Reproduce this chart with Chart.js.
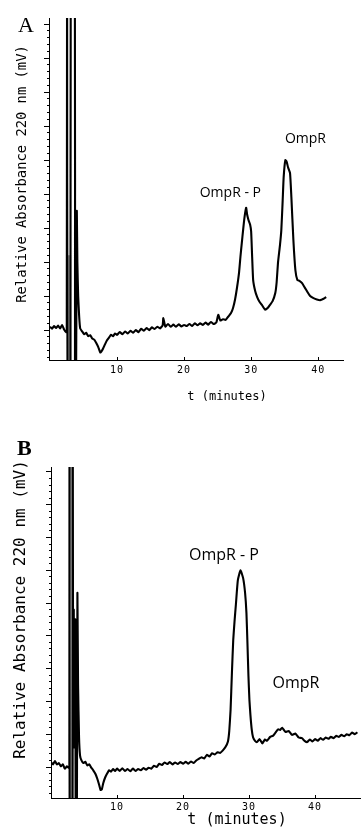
<!DOCTYPE html>
<html><head><meta charset="utf-8">
<script src="https://cdn.jsdelivr.net/npm/chart.js@4/dist/chart.umd.min.js"></script>
<style>
html,body{margin:0;padding:0;background:#fff;width:361px;height:831px;overflow:hidden}
canvas{position:absolute;left:0}
#chartA{top:0}
#chartB{top:415px}
</style></head><body>
<canvas id="chartA" width="361" height="415"></canvas>
<canvas id="chartB" width="361" height="416"></canvas>
<script>
// ---------- DATA ----------
const xTickValues = [10, 20, 30, 40];

// Panel A: OmpR-P + OmpR
const timeA = [0.0,0.3,0.6,0.9,1.2,1.5,1.8,2.1,2.4,2.5,2.55,2.62,3.05,3.1,3.7,3.72,3.85,4.0,4.08,4.2,4.35,4.5,4.8,5.1,5.4,5.7,6.0,6.3,6.6,6.9,7.2,7.5,7.7,7.9,8.2,8.5,8.8,9.1,9.4,9.7,10.0,10.4,10.8,11.2,11.6,12.0,12.4,12.8,13.2,13.6,14.0,14.4,14.8,15.2,15.6,16.0,16.4,16.8,16.9,17.2,17.6,18.0,18.4,18.8,19.2,19.6,20.0,20.4,20.8,21.2,21.6,22.0,22.4,22.8,23.2,23.6,24.0,24.4,24.8,25.1,25.4,25.8,26.2,26.6,27.0,27.3,27.6,27.9,28.2,28.4,28.6,28.8,29.0,29.25,29.4,29.6,29.85,30.0,30.15,30.3,30.6,30.9,31.2,31.6,32.1,32.5,32.8,33.2,33.6,33.8,34.0,34.3,34.5,34.7,34.85,35.1,35.3,35.5,35.8,36.0,36.3,36.6,36.9,37.2,37.6,38.0,38.4,38.8,39.3,39.8,40.3,40.8,41.2];
const signalA = [0.10,0.04,0.12,0.06,0.13,0.05,0.15,0.02,-0.06,0.0,12,-3,-3,12,12,-3,-3,3.5,2.0,1.0,0.4,0.05,-0.04,-0.12,-0.08,-0.18,-0.15,-0.25,-0.28,-0.38,-0.5,-0.66,-0.62,-0.55,-0.42,-0.3,-0.22,-0.14,-0.18,-0.1,-0.14,-0.06,-0.12,-0.04,-0.1,-0.02,-0.08,0.0,-0.06,0.04,-0.02,0.06,0.0,0.08,0.03,0.1,0.05,0.14,0.35,0.1,0.18,0.1,0.16,0.1,0.17,0.11,0.15,0.12,0.18,0.12,0.2,0.14,0.2,0.15,0.22,0.16,0.24,0.18,0.22,0.45,0.28,0.32,0.3,0.4,0.5,0.65,0.9,1.26,1.7,2.15,2.55,2.94,3.3,3.6,3.4,3.24,3.1,2.9,2.15,1.47,1.15,0.97,0.85,0.74,0.6,0.66,0.74,0.85,1.09,1.4,1.97,2.5,2.94,3.8,4.5,5.0,4.95,4.79,4.62,3.91,2.65,1.76,1.47,1.45,1.38,1.25,1.12,1.0,0.94,0.9,0.88,0.92,0.97];
const bandTimeA = [2.85, 2.85];
const bandSignalA = [-3, 2.2];

// Panel B: mostly OmpR-P
const timeB = [0.0,0.3,0.6,0.9,1.2,1.5,1.8,2.1,2.4,2.7,2.78,2.8,2.83,3.26,3.29,3.33,3.38,3.45,3.5,3.56,3.62,3.68,3.75,3.9,4.0,4.1,4.25,4.4,4.6,4.9,5.2,5.5,5.8,6.1,6.4,6.7,7.0,7.3,7.5,7.7,7.9,8.2,8.5,8.8,9.1,9.4,9.7,10.0,10.4,10.8,11.2,11.6,12.0,12.4,12.8,13.2,13.6,14.0,14.4,14.8,15.2,15.6,16.0,16.4,16.8,17.2,17.6,18.0,18.4,18.8,19.2,19.6,20.0,20.4,20.8,21.2,21.6,22.0,22.4,22.8,23.2,23.6,24.0,24.4,24.8,25.2,25.6,26.0,26.4,26.8,27.0,27.2,27.4,27.6,27.8,28.0,28.3,28.7,29.1,29.4,29.6,29.75,29.9,30.05,30.2,30.4,30.6,30.9,31.2,31.6,32.0,32.4,32.7,33.2,33.6,34.0,34.4,34.7,35.0,35.5,36.0,36.5,37.0,37.5,38.0,38.4,38.8,39.2,39.6,40.0,40.4,40.8,41.2,41.6,42.0,42.4,42.8,43.2,43.6,44.0,44.4,44.8,45.2,45.6,46.0,46.4];
const signalB = [0.15,0.08,0.18,0.08,0.12,0.02,0.08,-0.05,0.02,-0.03,0.02,12,-3,-3,12,4.6,0.8,4.8,0.6,4.2,1.2,4.5,-3,-3,5.3,2.5,0.9,0.35,0.21,0.12,0.16,0.05,0.08,-0.02,-0.1,-0.2,-0.35,-0.55,-0.7,-0.68,-0.5,-0.32,-0.2,-0.1,-0.14,-0.06,-0.12,-0.05,-0.12,-0.04,-0.12,-0.06,-0.13,-0.05,-0.12,-0.06,-0.1,-0.03,-0.08,-0.02,-0.05,0.04,0.0,0.1,0.06,0.14,0.09,0.15,0.08,0.14,0.09,0.15,0.1,0.16,0.1,0.17,0.12,0.2,0.25,0.3,0.26,0.37,0.32,0.42,0.38,0.45,0.43,0.5,0.6,0.78,1.1,1.75,2.87,3.87,4.45,4.95,5.7,6.0,5.76,5.3,4.7,3.8,2.8,2.05,1.6,1.15,0.91,0.8,0.76,0.85,0.72,0.84,0.8,0.92,0.95,1.05,1.15,1.13,1.2,1.07,1.1,0.98,1.02,0.9,0.88,0.8,0.76,0.84,0.78,0.85,0.8,0.88,0.83,0.9,0.86,0.92,0.88,0.95,0.92,0.98,0.94,1.0,0.97,1.05,1.0,1.06];
const bandTimeB = [3.05, 3.05];
const bandSignalB = [-3, 12];

// ---------- CHART ----------
const toPoints = (ts, vs) => ts.map((t, i) => ({x: t, y: vs[i]}));

const textPlugin = {
  id: 'panelText',
  beforeDraw(chart) { chart.ctx.letterSpacing = '1px'; },
  afterDraw(chart, args, o) {
    const ctx = chart.ctx;
    ctx.save();
    ctx.letterSpacing = '0px';
    ctx.fillStyle = '#000';
    ctx.font = o.letterFont;
    ctx.textAlign = 'left';
    ctx.textBaseline = 'alphabetic';
    ctx.fillText(o.letter, o.letterX, o.letterY);
    // x axis title
    ctx.font = o.xTitleFont;
    ctx.textAlign = 'center';
    ctx.textBaseline = 'middle';
    ctx.fillText(o.xTitle, o.xTitleX, o.xTitleY);
    // y axis title
    ctx.save();
    ctx.translate(o.yTitleX, o.yTitleY);
    ctx.rotate(-Math.PI / 2);
    ctx.font = o.yTitleFont;
    ctx.fillText(o.yTitle, 0, 0);
    ctx.restore();
    // peak labels
    const xs = chart.scales.x, ys = chart.scales.y;
    ctx.font = o.labelFont;
    o.labels.forEach(l => ctx.fillText(l.text, xs.getPixelForValue(l.t), ys.getPixelForValue(l.v)));
    ctx.restore();
  }
};

function yTicks(min, max) {
  const out = [];
  for (let m = -1; m <= 10; m++) {
    for (let k = 0; k < 5; k++) {
      const v = Math.round((m + k * 0.2) * 1000) / 1000;
      if (v >= min && v <= max) out.push(v);
    }
  }
  return out;
}

function makeChart(id, c) {
  return new Chart(document.getElementById(id), {
    type: 'line',
    data: {
      datasets: [
        {data: toPoints(c.t, c.v), borderColor: '#000', borderWidth: 2.1, pointRadius: 0, tension: 0.15, order: 0},
        {data: toPoints(c.bt, c.bv), borderColor: '#9c9c9c', borderWidth: c.bandWidth, pointRadius: 0, tension: 0, order: 1}
      ]
    },
    plugins: [textPlugin],
    options: {
      responsive: false,
      animation: false,
      events: [],
      layout: {padding: c.padding},
      plugins: {
        legend: {display: false},
        tooltip: {enabled: false},
        panelText: c.text
      },
      scales: {
        x: {
          type: 'linear', min: c.xMin, max: c.xMax,
          afterBuildTicks: s => { s.ticks = xTickValues.map(v => ({value: v})); },
          afterFit: s => { s.height = c.xHeight; },
          grid: {drawOnChartArea: false, tickLength: -3, tickColor: '#000', color: '#000'},
          border: {color: '#000', width: 1},
          ticks: {padding: c.xTickPad, color: '#000', maxRotation: 0, autoSkip: false,
                  font: {family: 'DejaVu Sans Mono', size: 10}},
          title: {display: false}
        },
        y: {
          type: 'linear', min: c.yMin, max: c.yMax,
          afterBuildTicks: s => { s.ticks = yTicks(c.yMin, c.yMax).map(v => ({value: v})); },
          afterFit: s => { s.width = c.yWidth; },
          grid: {drawOnChartArea: false, tickLength: 5, tickColor: '#000', tickWidth: 1,
                 tickBorderDash: ctx => (ctx.tick && Math.abs(ctx.tick.value - Math.round(ctx.tick.value)) < 1e-6) ? [] : [0, 3, 2, 10]},
          border: {color: '#000', width: 1},
          ticks: {display: false}
        }
      }
    }
  });
}

makeChart('chartA', {
  t: timeA, v: signalA, bt: bandTimeA, bv: bandSignalA, bandWidth: 4,
  xMin: -0.15, xMax: 43.7, yMin: -0.88, yMax: 9.18,
  padding: {left: 0, top: 18, right: 18, bottom: 0},
  xHeight: 55, yWidth: 49, xTickPad: 7,
  text: {
    letter: 'A', letterFont: '22px "Liberation Serif"', letterX: 18, letterY: 32,
    xTitle: 't (minutes)', xTitleFont: '12px "DejaVu Sans Mono"', xTitleX: 227, xTitleY: 397,
    yTitle: 'Relative Absorbance 220 nm (mV)', yTitleFont: '13.8px "DejaVu Sans Mono"', yTitleX: 22, yTitleY: 174,
    labelFont: '14px "Open Sans"',
    labels: [{text: 'OmpR - P', t: 26.9, v: 4.03}, {text: 'OmpR', t: 38.1, v: 5.62}]
  }
});

makeChart('chartB', {
  t: timeB, v: signalB, bt: bandTimeB, bv: bandSignalB, bandWidth: 2.5,
  xMin: 0, xMax: 46.8, yMin: -0.945, yMax: 9.15,
  padding: {left: 0, top: 52, right: 1, bottom: 0},
  xHeight: 33, yWidth: 51, xTickPad: 6,
  text: {
    letter: 'B', letterFont: 'bold 22px "Liberation Serif"', letterX: 17, letterY: 40,
    xTitle: 't (minutes)', xTitleFont: '15px "DejaVu Sans Mono"', xTitleX: 237, xTitleY: 405,
    yTitle: 'Relative Absorbance 220 nm (mV)', yTitleFont: '16px "DejaVu Sans Mono"', yTitleX: 21, yTitleY: 194.5,
    labelFont: '16px "Open Sans"',
    labels: [{text: 'OmpR - P', t: 26.2, v: 6.46}, {text: 'OmpR', t: 37.1, v: 2.56}]
  }
});
</script>
</body></html>
